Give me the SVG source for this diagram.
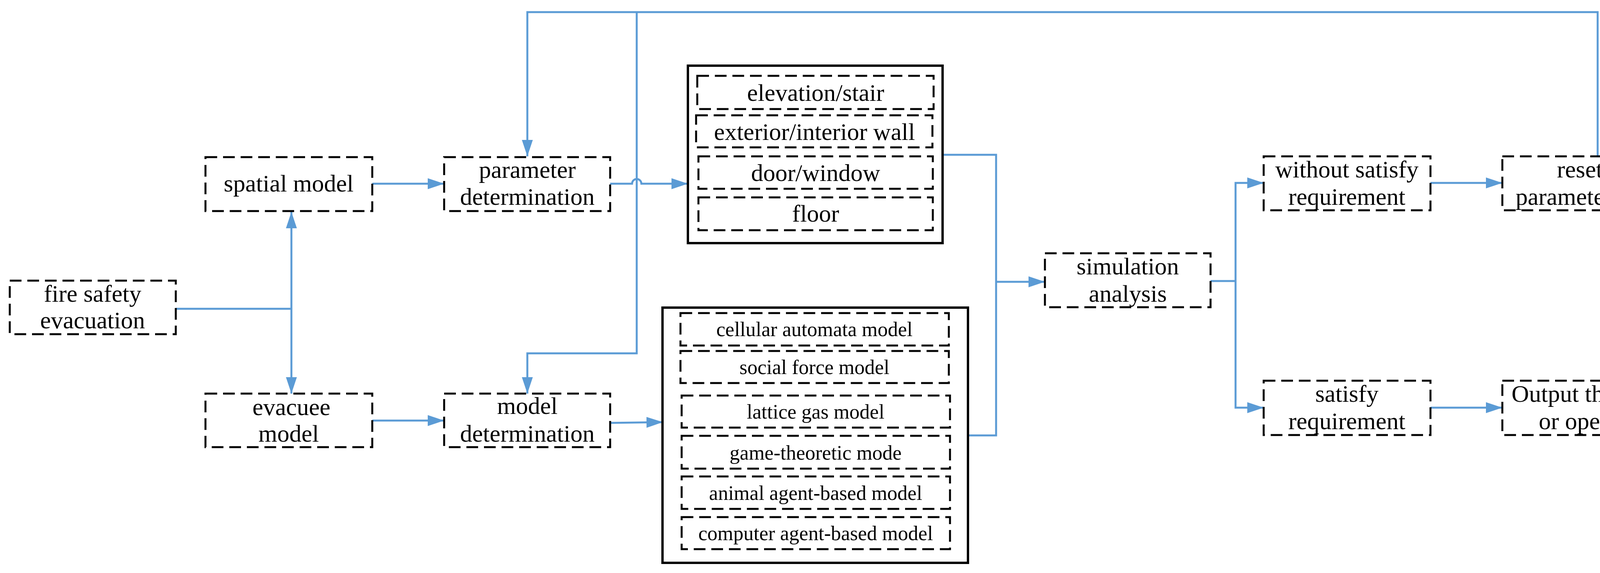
<svg xmlns="http://www.w3.org/2000/svg" width="4360" height="1466" viewBox="0 0 4360 1466">
<style>
.d{fill:#fff;stroke:#000;stroke-width:5;stroke-dasharray:30 15}
.o{fill:#fff;stroke:#000;stroke-width:6}
.c{fill:none;stroke:#5B9BD5;stroke-width:5}
text{font-family:"Liberation Serif",serif;font-size:62px;text-anchor:middle;fill:#000}
.s{font-size:52px}
</style>
<defs>
<marker id="b" viewBox="0 0 42 42" refX="42" refY="21" markerWidth="42" markerHeight="42" markerUnits="userSpaceOnUse" orient="auto">
<path d="M0,7L42,21L0,35z" fill="#5B9BD5"/>
</marker>
</defs>
<rect width="4360" height="1466" fill="#fff"/>
<g id="connectors" class="c">
<path d="M450,790H746"/>
<path d="M746,790V542" marker-end="url(#b)"/>
<path d="M746,790V1007" marker-end="url(#b)"/>
<path d="M953,470H1137" marker-end="url(#b)"/>
<path d="M953,1076H1137" marker-end="url(#b)"/>
<path d="M1562,470H1618a12,12 0 0 1 24,0H1761" marker-end="url(#b)"/>
<path d="M1562,1082L1697,1080" marker-end="url(#b)"/>
<path d="M4090,400V31H1350V400" marker-end="url(#b)"/>
<path d="M1630,31V904H1350V1007" marker-end="url(#b)"/>
<path d="M2413,396H2550V1114H2478"/>
<path d="M2550,721H2675" marker-end="url(#b)"/>
<path d="M3099,719H3163"/>
<path d="M3163,719V468H3235" marker-end="url(#b)"/>
<path d="M3163,719V1043H3235" marker-end="url(#b)"/>
<path d="M3662,468H3846" marker-end="url(#b)"/>
<path d="M3662,1043H3846" marker-end="url(#b)"/>
</g>
<g id="fire"><rect class="d" x="25" y="718" width="425" height="137"/><text x="237" y="772">fire safety</text><text x="237" y="840">evacuation</text></g>
<g id="spatial"><rect class="d" x="526" y="402" width="427" height="138"/><text x="739" y="490">spatial model</text></g>
<g id="evacuee"><rect class="d" x="526" y="1007" width="427" height="137"/><text x="746" y="1062">evacuee</text><text x="739" y="1130">model</text></g>
<g id="param"><rect class="d" x="1137" y="402" width="425" height="138"/><text x="1350" y="455">parameter</text><text x="1350" y="524">determination</text></g>
<g id="modeldet"><rect class="d" x="1137" y="1007" width="425" height="137"/><text x="1350" y="1059">model</text><text x="1350" y="1130">determination</text></g>
<g id="spatialbox">
<rect class="o" x="1761" y="168" width="652" height="454"/>
<rect class="d" x="1785" y="194" width="605" height="85"/><text x="2088" y="258">elevation/stair</text>
<rect class="d" x="1782" y="295" width="605" height="82"/><text x="2085" y="358">exterior/interior wall</text>
<rect class="d" x="1788" y="400" width="600" height="83"/><text x="2088" y="463">door/window</text>
<rect class="d" x="1788" y="505" width="600" height="84"/><text x="2088" y="567">floor</text>
</g>
<g id="modelbox">
<rect class="o" x="1696" y="787" width="782" height="653"/>
<rect class="d" x="1742" y="801" width="687" height="83"/><text class="s" x="2085" y="860">cellular automata model</text>
<rect class="d" x="1742" y="898" width="687" height="82"/><text class="s" x="2085" y="957">social force model</text>
<rect class="d" x="1745" y="1012" width="687" height="82"/><text class="s" x="2088" y="1071">lattice gas model</text>
<rect class="d" x="1745" y="1115" width="687" height="84"/><text class="s" x="2088" y="1176">game-theoretic mode</text>
<rect class="d" x="1745" y="1219" width="687" height="83"/><text class="s" x="2088" y="1279">animal agent-based model</text>
<rect class="d" x="1745" y="1323" width="687" height="82"/><text class="s" x="2088" y="1382">computer agent-based model</text>
</g>
<g id="sim"><rect class="d" x="2675" y="648" width="424" height="138"/><text x="2887" y="702">simulation</text><text x="2887" y="772">analysis</text></g>
<g id="without"><rect class="d" x="3235" y="400" width="427" height="138"/><text x="3448" y="454">without satisfy</text><text x="3448" y="524">requirement</text></g>
<g id="reset"><rect class="d" x="3846" y="400" width="488" height="138"/><text x="4090" y="454">reset the</text><text x="4090" y="524">parameter/model</text></g>
<g id="satisfy"><rect class="d" x="3235" y="974" width="427" height="139"/><text x="3448" y="1028">satisfy</text><text x="3448" y="1098">requirement</text></g>
<g id="output"><rect class="d" x="3846" y="974" width="488" height="139"/><text x="4090" y="1028">Output the design</text><text x="4090" y="1098">or operation</text></g>
</svg>
